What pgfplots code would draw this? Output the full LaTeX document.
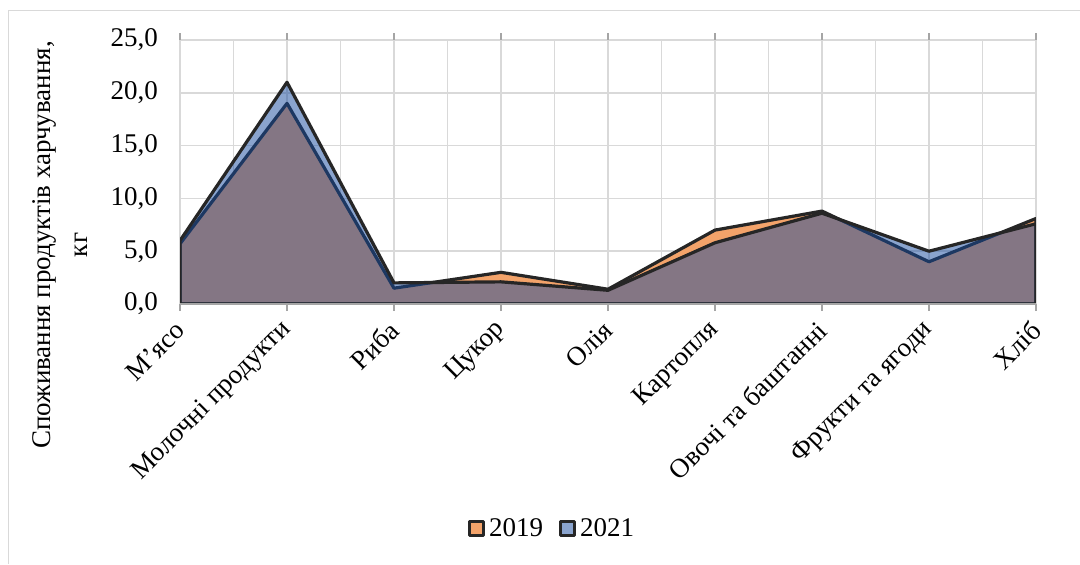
\documentclass[border=0pt]{standalone}
\usepackage{fontspec}
\setmainfont{Liberation Serif}
\usepackage{pgfplots}
\pgfplotsset{compat=1.18}
\definecolor{c19}{RGB}{243,163,106}
\definecolor{c21}{RGB}{22,74,158}
\definecolor{gridc}{RGB}{217,217,217}
\definecolor{edge}{RGB}{38,38,38}
\definecolor{axc}{RGB}{165,165,165}

\begin{document}
\begin{tikzpicture}
\path[use as bounding box] (0,0) rectangle (540pt,-282pt);
\draw[gridc, line width=0.75pt] (4.25pt,-282pt) -- (4.25pt,-5.25pt) -- (540pt,-5.25pt);
\begin{axis}[
  at={(90pt,-152pt)}, anchor=south west, scale only axis,
  width=428pt, height=132pt,
  xmin=0, xmax=8, ymin=0, ymax=25,
  xtick={0,...,8},
  xticklabels={М’ясо, Молочні продукти, Риба, Цукор, Олія, Картопля, Овочі та баштанні, Фрукти та ягоди, Хліб},
  minor x tick num=1,
  ytick={0,5,...,25},
  grid=both,
  major grid style={gridc, line width=0.75pt},
  minor grid style={gridc, line width=0.75pt},
  axis line style={draw=none},
  tick align=outside,
  major tick length=3.5pt,
  minor tick length=0pt,
  xtick style={draw=axc, line width=0.75pt},
  ytick style={draw=none},
  tick label style={font=\fontsize{13.5}{16}\selectfont},
  xticklabel style={xshift=2.5pt, yshift=-5pt, rotate=45, anchor=east},
  yticklabel style={xshift=-4pt},
  yticklabel={\pgfmathprintnumber[fixed, fixed zerofill, precision=1, use comma, assume math mode=true]{\tick}},
  ylabel={Споживання продуктів харчування,\\кг},
  ylabel style={at={(axis description cs:-0.140,0.2235)}, anchor=center, align=center, font=\fontsize{13.5}{18.5}\selectfont},
  legend style={at={(axis description cs:0.4358,-0.852)}, anchor=center, draw=none, legend columns=2, font=\fontsize{13.5}{16}\selectfont, /tikz/every even column/.append style={column sep=6pt}, inner sep=1pt},
  legend image code/.code={\draw[#1, draw=edge, line width=1.5pt] (0pt,-3.5pt) rectangle (7pt,3.5pt);},
]
\addplot[fill=c19, draw=edge, line width=1.6pt, line join=round] coordinates {
(0,5.7) (1,19.0) (2,1.5) (3,3.0) (4,1.4) (5,7.0) (6,8.8) (7,4.0) (8,8.1)
} \closedcycle;
\addlegendentry{2019}
\addplot[fill=c21, fill opacity=0.5, draw=edge, line width=1.6pt, line join=round] coordinates {
(0,6.0) (1,21.0) (2,2.0) (3,2.1) (4,1.3) (5,5.8) (6,8.6) (7,5.0) (8,7.6)
} \closedcycle;
\addlegendentry{2021}
\addplot[axc, line width=1pt, forget plot] coordinates {(0,0) (8,0)};
\end{axis}
\end{tikzpicture}
\end{document}
